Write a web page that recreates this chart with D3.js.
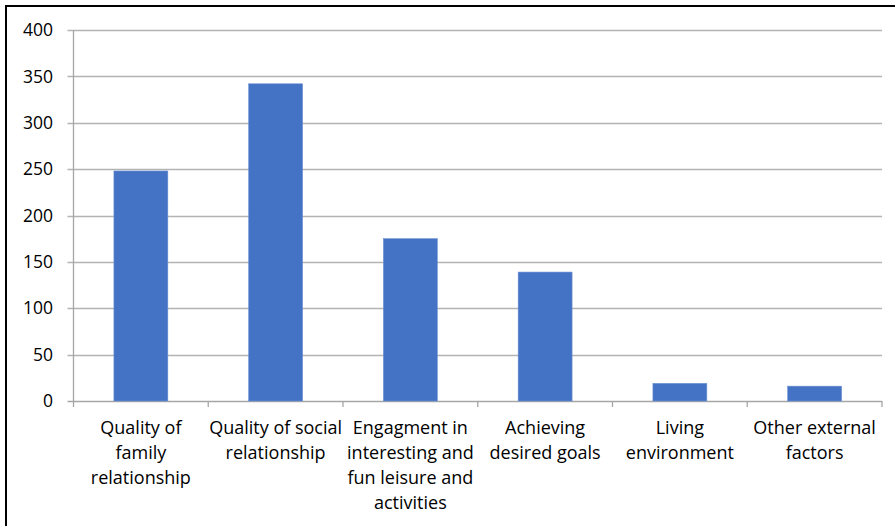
<!DOCTYPE html>
<html>
<head>
<meta charset="utf-8">
<script src="https://cdn.jsdelivr.net/npm/d3@7"></script>
<style>
  body { margin: 0; background: #fff; }
  svg text { font-family: "Open Sans", "Liberation Sans", sans-serif; fill: #000; }
</style>
</head>
<body>
<svg id="chart" width="895" height="526"></svg>
<script>
// chart data
var categories = [
    ["Quality of", "family", "relationship"],
    ["Quality of social", "relationship"],
    ["Engagment in", "interesting and", "fun leisure and", "activities"],
    ["Achieving", "desired goals"],
    ["Living", "environment"],
    ["Other external", "factors"]
];
var values = [248, 342, 175, 139, 19, 16];
var yTicks = [0, 50, 100, 150, 200, 250, 300, 350, 400];

var svg = d3.select("#chart");
var margin = { top: 30, right: 13, bottom: 125, left: 73.5 };
var width = 895, height = 526;

var keys = categories.map(function(c, i) { return i; });

var xScale = d3.scaleBand()
    .domain(keys)
    .range([margin.left, width - margin.right])
    .paddingInner(0.6)
    .paddingOuter(0.3);
var yScale = d3.scaleLinear()
    .domain([0, 400])
    .range([height - margin.bottom, margin.top]);

// outer frame (only top and left edges visible)
svg.append("path")
    .attr("d", "M6,526V6H895")
    .attr("fill", "none")
    .attr("stroke", "#000")
    .attr("stroke-width", 2);

// gridlines
svg.append("g")
    .selectAll("line")
    .data(yTicks)
    .enter().append("line")
    .attr("x1", margin.left - 6)
    .attr("x2", width - margin.right)
    .attr("y1", function(d) { return Math.round(yScale(d)) + 0.5; })
    .attr("y2", function(d) { return Math.round(yScale(d)) + 0.5; })
    .attr("stroke", function(d) { return d === 0 ? "#a6a6a6" : "#b3b3b3"; })
    .attr("stroke-width", 1.3);

// y axis line
svg.append("line")
    .attr("x1", margin.left).attr("x2", margin.left)
    .attr("y1", margin.top).attr("y2", yScale(0))
    .attr("stroke", "#a6a6a6")
    .attr("stroke-width", 1.3);

// y tick labels
svg.append("g")
    .selectAll("text")
    .data(yTicks)
    .enter().append("text")
    .attr("x", 53)
    .attr("y", function(d) { return yScale(d); })
    .attr("dy", "0.35em")
    .attr("text-anchor", "end")
    .attr("font-size", 17.5)
    .text(function(d) { return d; });

// category boundary ticks
var step = xScale.step();
var bounds = d3.range(categories.length + 1).map(function(i) {
    return margin.left + i * step;
});
svg.append("g")
    .selectAll("line")
    .data(bounds)
    .enter().append("line")
    .attr("x1", function(d) { return d; })
    .attr("x2", function(d) { return d; })
    .attr("y1", yScale(0))
    .attr("y2", yScale(0) + 6)
    .attr("stroke", "#a6a6a6")
    .attr("stroke-width", 1.3);

// bars
svg.append("g")
    .selectAll("rect")
    .data(values)
    .enter().append("rect")
    .attr("x", function(d, i) { return xScale(i); })
    .attr("y", function(d) { return yScale(d); })
    .attr("width", xScale.bandwidth())
    .attr("height", function(d) { return yScale(0) - yScale(d); })
    .attr("fill", "#4472c4")
    .attr("stroke", "#6b8fd3")
    .attr("stroke-width", 0.6);

// category labels
var labels = svg.append("g")
    .selectAll("text")
    .data(categories)
    .enter().append("text")
    .attr("text-anchor", "middle")
    .attr("font-size", 18)
    .attr("x", function(d, i) { return xScale(i) + xScale.bandwidth() / 2; })
    .attr("y", 434);
labels.selectAll("tspan")
    .data(function(d) { return d; })
    .enter().append("tspan")
    .attr("x", function() { return this.parentNode.getAttribute("x"); })
    .attr("dy", function(d, i) { return i === 0 ? 0 : 25; })
    .text(function(d) { return d; });
</script>
</body>
</html>
